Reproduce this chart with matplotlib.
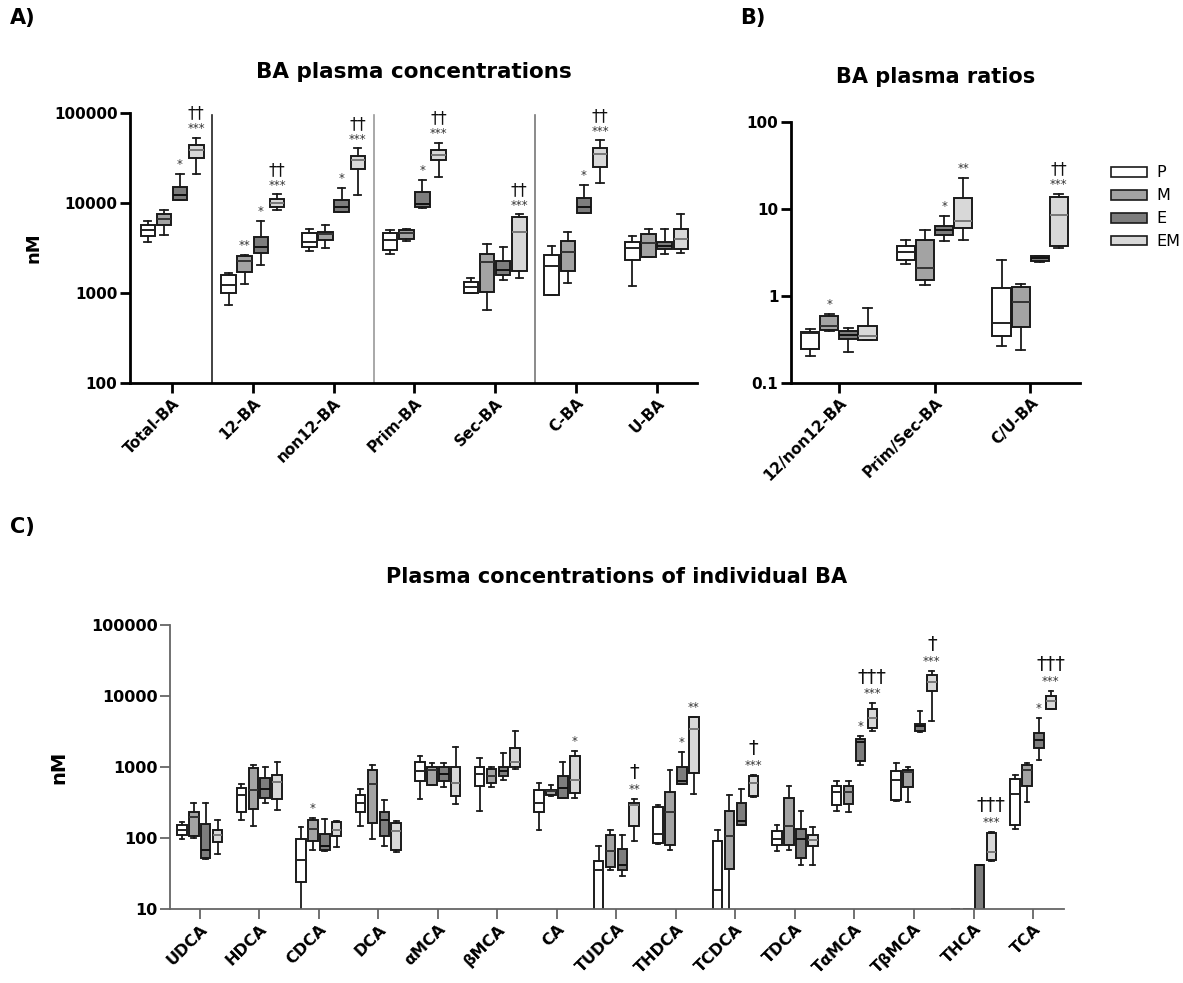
import matplotlib
matplotlib.use("Agg")
import matplotlib.pyplot as plt
from matplotlib.patches import Patch
from matplotlib.ticker import FixedLocator, NullLocator

plt.rcParams["font.family"] = ["DejaVu Sans"]

# groups
groups = ["P", "M", "E", "EM"]
group_colors = ["#ffffff", "#a3a3a3", "#7d7d7d", "#d8d8d8"]
median_colors = ["#222222", "#333333", "#111111", "#777777"]

# ---- panel A: five-number summaries [whislo, q1, med, q3, whishi] ----
a_cats = ["Total-BA", "12-BA", "non12-BA", "Prim-BA", "Sec-BA", "C-BA", "U-BA"]
a_p = [[3700, 4270, 4970, 5700, 6250], [742, 1000, 1215, 1570, 1680],
       [2900, 3250, 3690, 4650, 5190], [2690, 2980, 3850, 4640, 4970],
       [1000, 1000, 1166, 1325, 1470], [950, 957, 1980, 2670, 3330],
       [1200, 2350, 3190, 3690, 4300]]
a_m = [[4450, 5740, 6700, 7480, 8430], [1270, 1710, 2270, 2570, 2670],
       [3160, 3850, 4490, 4770, 5740], [3750, 3950, 4640, 4970, 5090],
       [653, 1026, 2210, 2735, 3530], [1290, 1750, 2860, 3790, 4760],
       [2500, 2510, 3590, 4560, 5190]]
a_e = [[10800, 10890, 12170, 15070, 21200], [2030, 2780, 3240, 4190, 6310],
       [7950, 7950, 9030, 10890, 14800], [8900, 9030, 9840, 13250, 18150],
       [1383, 1572, 1787, 2250, 3245], [7780, 7820, 9030, 11370, 16000],
       [2735, 3060, 3300, 3690, 5190]]
a_em = [[21200, 31900, 39100, 44500, 53200], [8300, 9030, 10000, 11170, 12470],
        [12170, 23870, 29800, 33250, 40450], [19450, 30200, 33850, 38460, 46800],
        [1480, 1742, 4760, 6990, 7480], [16700, 25100, 35300, 41200, 49700],
        [2780, 3110, 4020, 5100, 7610]]
# (category, group, stars, daggers)
a_marks = [(0, 2, "*", ""), (0, 3, "***", "††"),
           (1, 1, "**", ""), (1, 2, "*", ""), (1, 3, "***", "††"),
           (2, 2, "*", ""), (2, 3, "***", "††"),
           (3, 2, "*", ""), (3, 3, "***", "††"),
           (4, 3, "***", "††"),
           (5, 2, "*", ""), (5, 3, "***", "††")]

# ---- panel B ----
b_cats = ["12/non12-BA", "Prim/Sec-BA", "C/U-BA"]
b_p = [[0.206, 0.246, 0.375, 0.382, 0.418], [2.36, 2.62, 3.18, 3.79, 4.37],
       [0.268, 0.344, 0.49, 1.24, 2.62]]
b_m = [[0.40, 0.41, 0.448, 0.583, 0.626], [1.35, 1.54, 2.10, 4.44, 5.69],
       [0.24, 0.44, 0.845, 1.27, 1.39]]
b_e = [[0.227, 0.321, 0.36, 0.393, 0.428], [4.33, 5.07, 5.69, 6.32, 8.37],
       [2.47, 2.50, 2.71, 2.86, 2.91]]
b_em = [[0.309, 0.309, 0.35, 0.448, 0.728], [4.45, 6.05, 7.21, 13.4, 22.7],
        [3.57, 3.79, 8.53, 13.7, 15.0]]
b_marks = [(0, 1, "*", ""), (1, 2, "*", ""), (1, 3, "**", ""), (2, 3, "***", "††")]

# ---- panel C ----
c_cats = ["UDCA", "HDCA", "CDCA", "DCA", "αMCA", "βMCA", "CA", "TUDCA", "THDCA",
          "TCDCA", "TDCA", "TαMCA", "TβMCA", "THCA", "TCA"]
c_p = [[98, 111, 128, 153, 167], [181, 229, 398, 504, 580], [5, 23.7, 49.5, 98, 141],
       [149, 232, 316, 406, 493], [352, 639, 865, 1195, 1406], [242, 532, 792, 995, 1330],
       [131, 229, 310, 467, 593], [5, 8, 35.7, 48, 76], [81, 85, 113, 269, 287],
       [5, 8, 18.7, 89.5, 131], [66, 80, 97, 127, 153], [242, 294, 438, 543, 625],
       [327, 345, 660, 865, 1133], [10, 10, 10, 10, 10], [133, 153, 419, 682, 776]]
c_m = [[100, 105, 195, 232, 310], [149, 255, 477, 963, 1050], [68, 91, 135, 177, 190],
       [98, 162, 580, 912, 1050], [550, 561, 912, 984, 1156], [515, 593, 735, 942, 1016],
       [393, 406, 452, 477, 561], [35, 39, 66, 111, 131], [68, 79, 232, 443, 912],
       [5, 36.9, 105, 242, 398], [68, 79, 146, 365, 543], [232, 300, 438, 543, 639],
       [320, 520, 837, 912, 984], [10, 10, 10, 10, 10], [320, 532, 912, 1050, 1133]]
c_e = [[50, 52, 68, 158, 316], [310, 365, 488, 697, 1016], [66, 68, 76, 115, 184],
       [76, 105, 177, 232, 345], [515, 625, 802, 1016, 1156], [661, 735, 865, 984, 1600],
       [365, 365, 504, 735, 1195], [29.5, 35, 42, 71, 111], [575, 580, 625, 1016, 1652],
       [153, 153, 171, 316, 493], [42, 52, 97, 135, 242], [1072, 1234, 2285, 2464, 2773],
       [3090, 3226, 3795, 4050, 6170], [5, 8, 41, 41, 42], [1260, 1840, 2410, 3055, 4860]]
c_em = [[60, 87, 111, 131, 181], [244, 357, 605, 776, 1195], [74, 105, 131, 166, 171],
        [63, 68, 124, 162, 171], [300, 385, 593, 1016, 1900], [942, 984, 1195, 1880, 3228],
        [365, 428, 661, 1452, 1707], [91, 149, 294, 310, 357], [419, 819, 3444, 5130, 5130],
        [380, 385, 593, 735, 776], [42, 76, 92.5, 111, 141], [3226, 3518, 4860, 6580, 7910],
        [4510, 11800, 15970, 19800, 22550], [48, 49.4, 62.6, 117, 121],
        [6580, 6580, 8620, 10030, 11800]]
c_marks = [(2, 1, "*", ""), (6, 3, "*", ""), (7, 3, "**", "†"), (8, 2, "*", ""),
           (8, 3, "**", ""), (9, 3, "***", "†"), (11, 2, "*", ""), (11, 3, "***", "†††"),
           (12, 3, "***", "†"), (13, 3, "***", "†††"), (14, 2, "*", ""),
           (14, 3, "***", "†††")]

offsets = [-0.3, -0.1, 0.1, 0.3]


def draw_boxes(ax, series, width):
    for g, data in enumerate(series):
        stats = []
        for d in data:
            stats.append({"whislo": d[0], "q1": d[1], "med": d[2], "q3": d[3],
                          "whishi": d[4], "fliers": []})
        pos = [i + offsets[g] for i in range(len(data))]
        ax.bxp(stats, positions=pos, widths=width, patch_artist=True,
               showfliers=False, manage_ticks=False,
               boxprops=dict(facecolor=group_colors[g], edgecolor="#1a1a1a", linewidth=1.4),
               medianprops=dict(color=median_colors[g], linewidth=1.4),
               whiskerprops=dict(color="#1a1a1a", linewidth=1.3),
               capprops=dict(color="#1a1a1a", linewidth=1.3))


def draw_marks(ax, series, marks, dag_size, dag_off):
    for cat, g, stars, dag in marks:
        x = cat + offsets[g]
        top = series[g][cat][4]
        ax.annotate(stars, (x, top), xytext=(0, 2), textcoords="offset points",
                    ha="center", va="bottom", fontsize=8.5, color="#333333")
        if dag:
            ax.annotate(dag, (x, top), xytext=(0, dag_off), textcoords="offset points",
                        ha="center", va="bottom", fontsize=dag_size, color="#111111")


def style_axis(ax, cats, yticks, ylabels, color, lw, fs):
    ax.set_yscale("log")
    ax.yaxis.set_major_locator(FixedLocator(yticks))
    ax.yaxis.set_minor_locator(NullLocator())
    ax.set_yticklabels(ylabels, fontsize=fs, fontweight="bold")
    ax.set_xticks(range(len(cats)))
    ax.set_xticklabels(cats, rotation=45, ha="right", rotation_mode="anchor",
                       fontsize=fs, fontweight="bold")
    for s in ["top", "right"]:
        ax.spines[s].set_visible(False)
    for s in ["left", "bottom"]:
        ax.spines[s].set_color(color)
        ax.spines[s].set_linewidth(lw)
    ax.tick_params(axis="both", length=7, width=lw, color=color, pad=2)


fig = plt.figure(figsize=(11.83, 9.83), dpi=100)

# panel A
axA = fig.add_axes([130 / 1183, 1 - 383 / 983, 567 / 1183, 270 / 983])
a_series = [a_p, a_m, a_e, a_em]
draw_boxes(axA, a_series, 0.18)
axA.set_xlim(-0.52, 6.5)
axA.set_ylim(100, 100000)
style_axis(axA, a_cats, [100, 1000, 10000, 100000], ["100", "1000", "10000", "100000"],
           "black", 2.0, 11)
for xs, col in [(0.5, "#222222"), (2.5, "#9a9a9a"), (4.5, "#777777")]:
    axA.plot([xs, xs], [100, 95000], color=col, lw=1.2, clip_on=False)
draw_marks(axA, a_series, a_marks, 12, 11)
axA.set_ylabel("nM", fontsize=13, fontweight="bold", labelpad=8)
axA.set_title("BA plasma concentrations", fontsize=15.5, fontweight="bold", pad=25)

# panel B
axB = fig.add_axes([791 / 1183, 1 - 383 / 983, 289 / 1183, 261 / 983])
b_series = [b_p, b_m, b_e, b_em]
draw_boxes(axB, b_series, 0.19)
axB.set_xlim(-0.5, 2.52)
axB.set_ylim(0.1, 100)
style_axis(axB, b_cats, [0.1, 1, 10, 100], ["0.1", "1", "10", "100"], "black", 2.0, 11)
draw_marks(axB, b_series, b_marks, 12, 11)
axB.set_title("BA plasma ratios", fontsize=15, fontweight="bold", pad=28)

handles = [Patch(facecolor=c, edgecolor="#1a1a1a", linewidth=1.2) for c in group_colors]
fig.legend(handles, groups, loc="upper left", bbox_to_anchor=(1097 / 1183, 1 - 151 / 983),
           frameon=False, fontsize=11.5, handlelength=2.2, handleheight=0.55,
           labelspacing=0.5, handletextpad=0.6)

# panel C
axC = fig.add_axes([170 / 1183, 1 - 909 / 983, 894 / 1183, 284 / 983])
c_series = [c_p, c_m, c_e, c_em]
draw_boxes(axC, c_series, 0.16)
axC.set_xlim(-0.5, 14.52)
axC.set_ylim(10, 100000)
style_axis(axC, c_cats, [10, 100, 1000, 10000, 100000],
           ["10", "100", "1000", "10000", "100000"], "#666666", 1.3, 11.5)
draw_marks(axC, c_series, c_marks, 14, 12)
axC.set_ylabel("nM", fontsize=14, fontweight="bold", labelpad=16)
axC.set_title("Plasma concentrations of individual BA", fontsize=15, fontweight="bold",
              pad=30)

fig.text(10 / 1183, 1 - 18 / 983, "A)", fontsize=15, fontweight="bold", va="center")
fig.text(740 / 1183, 1 - 18 / 983, "B)", fontsize=15, fontweight="bold", va="center")
fig.text(10 / 1183, 1 - 527 / 983, "C)", fontsize=15, fontweight="bold", va="center")

fig.savefig("out.png", dpi=100)
